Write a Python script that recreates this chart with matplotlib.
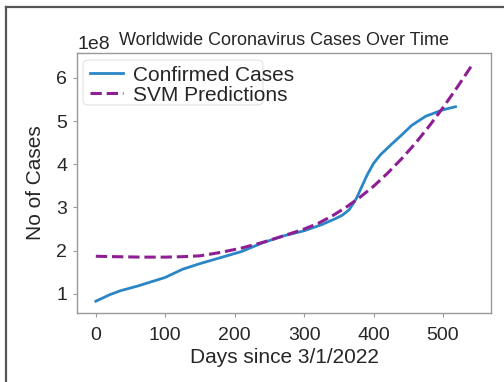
import matplotlib
matplotlib.use('Agg')
import matplotlib.pyplot as plt
from matplotlib.lines import Line2D
from matplotlib.patches import FancyBboxPatch

# confirmed worldwide cases (1e8) by days since 3/1/2022
days_confirmed = [0, 20, 35, 60, 80, 100, 125, 150, 180, 210, 240, 270, 300,
                  325, 345, 355, 365, 375, 383, 391, 400, 410, 425, 440, 455,
                  475, 500, 518]
confirmed = [0.83, 0.98, 1.07, 1.18, 1.28, 1.38, 1.57, 1.70, 1.84, 1.98, 2.18,
             2.34, 2.46, 2.60, 2.74, 2.82, 2.95, 3.20, 3.48, 3.76, 4.02, 4.22,
             4.45, 4.67, 4.90, 5.11, 5.26, 5.33]

# SVM regression output (1e8)
days_pred = [0, 30, 65, 100, 125, 150, 180, 210, 240, 270, 300, 320, 340,
             360, 380, 400, 420, 440, 460, 480, 500, 520, 542]
svm_pred = [1.87, 1.86, 1.85, 1.85, 1.86, 1.88, 1.96, 2.06, 2.19, 2.34, 2.50,
            2.63, 2.80, 3.00, 3.23, 3.49, 3.79, 4.12, 4.48, 4.88, 5.31, 5.77,
            6.30]

plt.rcParams['font.family'] = ['Liberation Sans', 'DejaVu Sans']
plt.rcParams['text.color'] = '#262626'
plt.rcParams['axes.labelcolor'] = '#262626'
plt.rcParams['xtick.color'] = '#262626'
plt.rcParams['ytick.color'] = '#262626'

fig = plt.figure(figsize=(5.04, 3.82), dpi=100)
ax = fig.add_axes([0.1528, 0.1806, 0.8214, 0.6806])

ax.plot(days_confirmed, [v * 1e8 for v in confirmed], color='#2a86c6',
        lw=2, label='Confirmed Cases')
ax.plot(days_pred, [v * 1e8 for v in svm_pred], color='#8e1e94',
        lw=2.2, linestyle='--', label='SVM Predictions')

ax.set_xticks([0, 100, 200, 300, 400, 500])
ax.set_yticks([1e8, 2e8, 3e8, 4e8, 5e8, 6e8])
ax.tick_params(axis='both', labelsize=14, length=3, width=0.8,
               color='#999999')
ax.tick_params(axis='x', pad=7)
ax.tick_params(axis='y', pad=4)
ax.yaxis.get_offset_text().set_fontsize(14)
for s in ax.spines.values():
    s.set_color('#999999')
    s.set_linewidth(1)

ax.set_xlabel('Days since 3/1/2022', fontsize=15, labelpad=3)
ax.set_ylabel('No of Cases', fontsize=15, labelpad=8)
ax.set_title('Worldwide Coronavirus Cases Over Time', fontsize=13,
             y=1.0, pad=6)

# legend box is drawn separately; the labels run past its right edge
box = FancyBboxPatch((0.0145, 0.80), 0.4345, 0.173,
                     boxstyle='round,pad=0,rounding_size=0.015',
                     transform=ax.transAxes, facecolor='white',
                     edgecolor='#e2e2e2', lw=0.8, zorder=4.9)
ax.add_patch(box)
leg = ax.legend(loc='upper left', fontsize=15, handlelength=1.6,
                handletextpad=0.5, labelspacing=0.05, borderpad=0.3,
                borderaxespad=0.3, frameon=False)
leg.set_zorder(5)

# outer frame lines
fig.add_artist(Line2D([6 / 504, 1], [1 - 7 / 382, 1 - 7 / 382],
                      transform=fig.transFigure, color='#555555', lw=1.6))
fig.add_artist(Line2D([6 / 504, 6 / 504], [0, 1 - 7 / 382],
                      transform=fig.transFigure, color='#555555', lw=1.6))

fig.savefig('out.png', dpi=100, facecolor='white')
